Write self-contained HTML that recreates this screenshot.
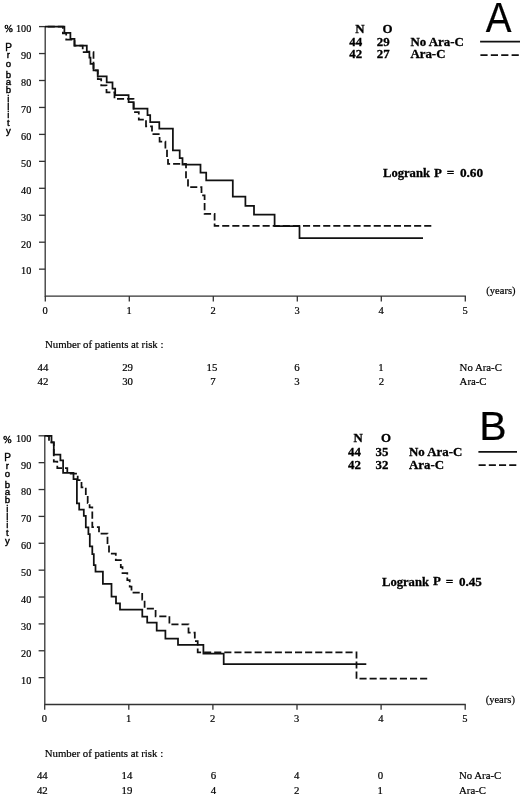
<!DOCTYPE html>
<html><head><meta charset="utf-8"><title>Kaplan-Meier curves</title>
<style>
html,body{margin:0;padding:0;background:#fff;}
body{width:520px;height:798px;overflow:hidden;}
svg{display:block;}
text{fill:#000;stroke:#000;stroke-width:0.2px;font-family:"Liberation Serif", "Times New Roman", serif;}
text[font-weight=bold]{stroke-width:0.3px;}
.axis line{stroke:#333;}
line.c,path.c{stroke:#111;fill:none;stroke-width:1.75;}
line.d,path.d{stroke:#111;fill:none;stroke-width:1.75;stroke-dasharray:7.1 3.0;}
</style></head><body>
<svg width="520" height="798" viewBox="0 0 520 798">
<rect width="520" height="798" fill="#fff"/>
<g class="axis">
<line x1="45.20" y1="26.00" x2="45.20" y2="296.70" stroke-width="1.3"/>
<line x1="45.20" y1="296.10" x2="465.90" y2="296.10" stroke-width="1.3"/>
<line x1="39.00" y1="269.15" x2="45.20" y2="269.15" stroke-width="1.3"/>
<line x1="39.00" y1="242.20" x2="45.20" y2="242.20" stroke-width="1.3"/>
<line x1="39.00" y1="215.25" x2="45.20" y2="215.25" stroke-width="1.3"/>
<line x1="39.00" y1="188.30" x2="45.20" y2="188.30" stroke-width="1.3"/>
<line x1="39.00" y1="161.35" x2="45.20" y2="161.35" stroke-width="1.3"/>
<line x1="39.00" y1="134.40" x2="45.20" y2="134.40" stroke-width="1.3"/>
<line x1="39.00" y1="107.45" x2="45.20" y2="107.45" stroke-width="1.3"/>
<line x1="39.00" y1="80.50" x2="45.20" y2="80.50" stroke-width="1.3"/>
<line x1="39.00" y1="53.55" x2="45.20" y2="53.55" stroke-width="1.3"/>
<line x1="39.00" y1="26.60" x2="45.20" y2="26.60" stroke-width="1.3"/>
<line x1="45.30" y1="296.10" x2="45.30" y2="301.40" stroke-width="1.3"/>
<line x1="129.30" y1="296.10" x2="129.30" y2="301.40" stroke-width="1.3"/>
<line x1="213.30" y1="296.10" x2="213.30" y2="301.40" stroke-width="1.3"/>
<line x1="297.30" y1="296.10" x2="297.30" y2="301.40" stroke-width="1.3"/>
<line x1="381.30" y1="296.10" x2="381.30" y2="301.40" stroke-width="1.3"/>
<line x1="465.30" y1="296.10" x2="465.30" y2="301.40" stroke-width="1.3"/>
</g>
<text x="31.30" y="274.45" font-size="10.2" text-anchor="end">10</text>
<text x="31.30" y="247.50" font-size="10.2" text-anchor="end">20</text>
<text x="31.30" y="220.55" font-size="10.2" text-anchor="end">30</text>
<text x="31.30" y="193.60" font-size="10.2" text-anchor="end">40</text>
<text x="31.30" y="166.65" font-size="10.2" text-anchor="end">50</text>
<text x="31.30" y="139.70" font-size="10.2" text-anchor="end">60</text>
<text x="31.30" y="112.75" font-size="10.2" text-anchor="end">70</text>
<text x="31.30" y="85.80" font-size="10.2" text-anchor="end">80</text>
<text x="31.30" y="58.85" font-size="10.2" text-anchor="end">90</text>
<text x="31.30" y="31.90" font-size="10.2" text-anchor="end">100</text>
<text x="45.00" y="313.60" font-size="10.5" text-anchor="middle">0</text>
<text x="129.00" y="313.60" font-size="10.5" text-anchor="middle">1</text>
<text x="213.00" y="313.60" font-size="10.5" text-anchor="middle">2</text>
<text x="297.00" y="313.60" font-size="10.5" text-anchor="middle">3</text>
<text x="381.00" y="313.60" font-size="10.5" text-anchor="middle">4</text>
<text x="465.00" y="313.60" font-size="10.5" text-anchor="middle">5</text>
<text x="486.30" y="293.80" font-size="10.9" textLength="29.2" lengthAdjust="spacingAndGlyphs">(years)</text>
<text x="8.60" y="31.80" font-size="10.0" text-anchor="middle" style="stroke-width:0.45px">%</text>
<text x="8.70" y="50.60" font-size="10.0" text-anchor="middle" style='font-family:"Liberation Sans", Arial, sans-serif;stroke-width:0.4px'>P</text>
<text x="8.40" y="58.30" font-size="9.6" text-anchor="middle" style='font-family:"Liberation Sans", Arial, sans-serif;stroke-width:0.4px'>r</text>
<text x="8.40" y="67.00" font-size="9.6" text-anchor="middle" style='font-family:"Liberation Sans", Arial, sans-serif;stroke-width:0.4px'>o</text>
<text x="8.40" y="77.50" font-size="9.6" text-anchor="middle" style='font-family:"Liberation Sans", Arial, sans-serif;stroke-width:0.4px'>b</text>
<text x="8.40" y="84.50" font-size="9.6" text-anchor="middle" style='font-family:"Liberation Sans", Arial, sans-serif;stroke-width:0.4px'>a</text>
<text x="8.40" y="92.80" font-size="9.6" text-anchor="middle" style='font-family:"Liberation Sans", Arial, sans-serif;stroke-width:0.4px'>b</text>
<text x="8.40" y="101.50" font-size="9.6" text-anchor="middle" style='font-family:"Liberation Sans", Arial, sans-serif;stroke-width:0.4px'>i</text>
<text x="8.40" y="110.00" font-size="9.6" text-anchor="middle" style='font-family:"Liberation Sans", Arial, sans-serif;stroke-width:0.4px'>l</text>
<text x="8.40" y="117.50" font-size="9.6" text-anchor="middle" style='font-family:"Liberation Sans", Arial, sans-serif;stroke-width:0.4px'>i</text>
<text x="8.40" y="126.20" font-size="9.6" text-anchor="middle" style='font-family:"Liberation Sans", Arial, sans-serif;stroke-width:0.4px'>t</text>
<text x="8.40" y="133.80" font-size="9.6" text-anchor="middle" style='font-family:"Liberation Sans", Arial, sans-serif;stroke-width:0.4px'>y</text>
<text x="355.20" y="33.30" font-size="12.9" font-weight="bold">N</text>
<text x="382.40" y="33.30" font-size="12.9" font-weight="bold">O</text>
<text x="349.20" y="45.90" font-size="12.9" font-weight="bold">44</text>
<text x="376.80" y="45.90" font-size="12.9" font-weight="bold">29</text>
<text x="410.40" y="45.90" font-size="12.9" font-weight="bold">No Ara-C</text>
<text x="349.20" y="58.40" font-size="12.9" font-weight="bold">42</text>
<text x="376.80" y="58.40" font-size="12.9" font-weight="bold">27</text>
<text x="410.40" y="58.40" font-size="12.9" font-weight="bold">Ara-C</text>
<line x1="480.10" y1="41.60" x2="520.00" y2="41.60" stroke-width="1.7" class="c"/>
<line x1="480.40" y1="55.20" x2="520.00" y2="55.20" class="d" style="stroke-dasharray:7.2 3.2"/>
<text transform="translate(485.70,32.10) scale(0.92,1)" x="0" y="0" font-size="42" style='font-family:"Liberation Sans", Arial, sans-serif'>A</text>
<text x="383.00" y="177.10" font-size="12.6" font-weight="bold">Logrank</text>
<text x="434.00" y="177.30" font-size="12.9" font-weight="bold">P</text>
<text x="446.80" y="177.10" font-size="13.5" font-weight="bold" textLength="7.6" lengthAdjust="spacingAndGlyphs">=</text>
<text x="459.90" y="177.20" font-size="13.3" font-weight="bold">0.60</text>
<path class="c" d="M44.90,26.70H64.40V32.90H70.40V38.80H74.50V45.50H86.80V51.70H89.40V57.50H90.50V63.90H93.50V70.30H97.70V76.30H106.70V82.30H112.50V88.50H115.20V95.00H128.60V102.00H133.70V108.50H147.50V115.20H150.20V122.00H159.30V128.70H172.90V150.40H179.70V158.00H182.50V164.70H200.50V172.70H206.20V180.40H232.80V196.50H245.40V205.80H254.00V214.70H274.60V226.20H299.50V238.00H423.00"/>
<path class="d" stroke-dashoffset="7.30" d="M44.90,26.70H62.90V33.40H66.20V39.50H74.50V45.50H82.70V52.20H93.50V70.30H97.80V79.20H101.20V85.40H106.50V92.30H114.50V98.80H133.50V112.00H138.80V119.50H146.00V126.30H152.00V134.00H159.60V141.50H165.40V148.50H167.00V158.00H168.00V163.90H186.00V178.50H188.00V187.20H201.50V195.40H204.60V213.80H214.60V225.90H431.60"/>
<text x="45.00" y="348.00" font-size="10.8">Number of patients at risk :</text>
<text x="43.00" y="370.80" font-size="10.8" text-anchor="middle">44</text>
<text x="127.60" y="370.80" font-size="10.8" text-anchor="middle">29</text>
<text x="212.00" y="370.80" font-size="10.8" text-anchor="middle">15</text>
<text x="297.00" y="370.80" font-size="10.8" text-anchor="middle">6</text>
<text x="381.00" y="370.80" font-size="10.8" text-anchor="middle">1</text>
<text x="459.60" y="370.80" font-size="10.8">No Ara-C</text>
<text x="43.00" y="385.40" font-size="10.8" text-anchor="middle">42</text>
<text x="127.60" y="385.40" font-size="10.8" text-anchor="middle">30</text>
<text x="213.00" y="385.40" font-size="10.8" text-anchor="middle">7</text>
<text x="297.00" y="385.40" font-size="10.8" text-anchor="middle">3</text>
<text x="381.50" y="385.40" font-size="10.8" text-anchor="middle">2</text>
<text x="459.60" y="385.40" font-size="10.8">Ara-C</text>
<g class="axis">
<line x1="44.80" y1="435.20" x2="44.80" y2="705.10" stroke-width="1.3"/>
<line x1="44.80" y1="704.50" x2="465.80" y2="704.50" stroke-width="1.3"/>
<line x1="38.60" y1="677.63" x2="44.80" y2="677.63" stroke-width="1.3"/>
<line x1="38.60" y1="650.76" x2="44.80" y2="650.76" stroke-width="1.3"/>
<line x1="38.60" y1="623.89" x2="44.80" y2="623.89" stroke-width="1.3"/>
<line x1="38.60" y1="597.02" x2="44.80" y2="597.02" stroke-width="1.3"/>
<line x1="38.60" y1="570.15" x2="44.80" y2="570.15" stroke-width="1.3"/>
<line x1="38.60" y1="543.28" x2="44.80" y2="543.28" stroke-width="1.3"/>
<line x1="38.60" y1="516.41" x2="44.80" y2="516.41" stroke-width="1.3"/>
<line x1="38.60" y1="489.54" x2="44.80" y2="489.54" stroke-width="1.3"/>
<line x1="38.60" y1="462.67" x2="44.80" y2="462.67" stroke-width="1.3"/>
<line x1="38.60" y1="435.80" x2="44.80" y2="435.80" stroke-width="1.3"/>
<line x1="44.70" y1="704.50" x2="44.70" y2="709.80" stroke-width="1.3"/>
<line x1="128.80" y1="704.50" x2="128.80" y2="709.80" stroke-width="1.3"/>
<line x1="212.90" y1="704.50" x2="212.90" y2="709.80" stroke-width="1.3"/>
<line x1="297.00" y1="704.50" x2="297.00" y2="709.80" stroke-width="1.3"/>
<line x1="381.10" y1="704.50" x2="381.10" y2="709.80" stroke-width="1.3"/>
<line x1="465.20" y1="704.50" x2="465.20" y2="709.80" stroke-width="1.3"/>
</g>
<text x="31.30" y="683.53" font-size="10.2" text-anchor="end">10</text>
<text x="31.30" y="656.66" font-size="10.2" text-anchor="end">20</text>
<text x="31.30" y="629.79" font-size="10.2" text-anchor="end">30</text>
<text x="31.30" y="602.92" font-size="10.2" text-anchor="end">40</text>
<text x="31.30" y="576.05" font-size="10.2" text-anchor="end">50</text>
<text x="31.30" y="549.18" font-size="10.2" text-anchor="end">60</text>
<text x="31.30" y="522.31" font-size="10.2" text-anchor="end">70</text>
<text x="31.30" y="495.44" font-size="10.2" text-anchor="end">80</text>
<text x="31.30" y="468.57" font-size="10.2" text-anchor="end">90</text>
<text x="31.30" y="441.70" font-size="10.2" text-anchor="end">100</text>
<text x="44.40" y="722.00" font-size="10.5" text-anchor="middle">0</text>
<text x="128.50" y="722.00" font-size="10.5" text-anchor="middle">1</text>
<text x="212.60" y="722.00" font-size="10.5" text-anchor="middle">2</text>
<text x="296.70" y="722.00" font-size="10.5" text-anchor="middle">3</text>
<text x="380.80" y="722.00" font-size="10.5" text-anchor="middle">4</text>
<text x="464.90" y="722.00" font-size="10.5" text-anchor="middle">5</text>
<text x="485.70" y="702.90" font-size="10.9" textLength="29.2" lengthAdjust="spacingAndGlyphs">(years)</text>
<text x="7.40" y="443.30" font-size="10.0" text-anchor="middle" style="stroke-width:0.45px">%</text>
<text x="7.60" y="460.60" font-size="10.0" text-anchor="middle" style='font-family:"Liberation Sans", Arial, sans-serif;stroke-width:0.4px'>P</text>
<text x="7.30" y="468.50" font-size="9.6" text-anchor="middle" style='font-family:"Liberation Sans", Arial, sans-serif;stroke-width:0.4px'>r</text>
<text x="7.30" y="477.20" font-size="9.6" text-anchor="middle" style='font-family:"Liberation Sans", Arial, sans-serif;stroke-width:0.4px'>o</text>
<text x="7.30" y="487.70" font-size="9.6" text-anchor="middle" style='font-family:"Liberation Sans", Arial, sans-serif;stroke-width:0.4px'>b</text>
<text x="7.30" y="494.70" font-size="9.6" text-anchor="middle" style='font-family:"Liberation Sans", Arial, sans-serif;stroke-width:0.4px'>a</text>
<text x="7.30" y="503.00" font-size="9.6" text-anchor="middle" style='font-family:"Liberation Sans", Arial, sans-serif;stroke-width:0.4px'>b</text>
<text x="7.30" y="511.70" font-size="9.6" text-anchor="middle" style='font-family:"Liberation Sans", Arial, sans-serif;stroke-width:0.4px'>i</text>
<text x="7.30" y="520.20" font-size="9.6" text-anchor="middle" style='font-family:"Liberation Sans", Arial, sans-serif;stroke-width:0.4px'>l</text>
<text x="7.30" y="527.70" font-size="9.6" text-anchor="middle" style='font-family:"Liberation Sans", Arial, sans-serif;stroke-width:0.4px'>i</text>
<text x="7.30" y="536.40" font-size="9.6" text-anchor="middle" style='font-family:"Liberation Sans", Arial, sans-serif;stroke-width:0.4px'>t</text>
<text x="7.30" y="543.80" font-size="9.6" text-anchor="middle" style='font-family:"Liberation Sans", Arial, sans-serif;stroke-width:0.4px'>y</text>
<text x="353.40" y="442.40" font-size="12.9" font-weight="bold">N</text>
<text x="381.10" y="442.40" font-size="12.9" font-weight="bold">O</text>
<text x="348.00" y="455.90" font-size="12.9" font-weight="bold">44</text>
<text x="375.60" y="455.90" font-size="12.9" font-weight="bold">35</text>
<text x="409.00" y="455.90" font-size="12.9" font-weight="bold">No Ara-C</text>
<text x="348.00" y="468.70" font-size="12.9" font-weight="bold">42</text>
<text x="375.60" y="468.70" font-size="12.9" font-weight="bold">32</text>
<text x="409.00" y="468.70" font-size="12.9" font-weight="bold">Ara-C</text>
<line x1="478.40" y1="451.80" x2="517.00" y2="451.80" stroke-width="1.7" class="c"/>
<line x1="478.60" y1="465.10" x2="517.00" y2="465.10" class="d" style="stroke-dasharray:7.1 3.1"/>
<text transform="translate(479.20,439.60) scale(1.0,1)" x="0" y="0" font-size="41" style='font-family:"Liberation Sans", Arial, sans-serif'>B</text>
<text x="382.00" y="586.30" font-size="12.6" font-weight="bold">Logrank</text>
<text x="433.00" y="585.30" font-size="12.9" font-weight="bold">P</text>
<text x="445.80" y="586.30" font-size="13.5" font-weight="bold" textLength="7.6" lengthAdjust="spacingAndGlyphs">=</text>
<text x="458.90" y="585.80" font-size="13.1" font-weight="bold">0.45</text>
<path class="c" d="M44.50,435.80H51.50V442.30H53.80V454.50H60.40V460.40H63.10V472.80H73.50V479.20H76.90V503.30H79.20V509.60H83.80V515.80H85.80V527.30H88.40V534.20H89.80V546.40H92.30V554.20H93.80V565.00H95.50V571.50H102.90V583.80H111.50V596.50H116.00V603.30H120.00V609.50H142.30V616.70H147.20V622.70H156.70V630.50H165.40V638.60H178.00V644.90H203.40V653.60H223.70V664.20H366.30"/>
<path class="d" stroke-dashoffset="7.70" d="M44.50,435.80H49.00V442.30H53.80V461.50H57.30V468.20H67.30V473.50H77.70V480.00H81.50V487.30H85.80V494.00H87.70V503.00H89.60V507.30H92.30V527.20H99.00V533.60H107.50V545.00H109.00V553.60H115.80V560.00H120.80V567.00H122.50V573.00H127.30V580.00H129.70V586.50H131.50V592.50H142.20V599.50H144.60V608.60H155.60V616.30H169.40V624.40H188.50V632.50H194.80V641.20H197.70V652.30H356.50V678.70H428.60"/>
<text x="44.70" y="757.00" font-size="10.8">Number of patients at risk :</text>
<text x="42.30" y="779.00" font-size="10.8" text-anchor="middle">44</text>
<text x="127.00" y="779.00" font-size="10.8" text-anchor="middle">14</text>
<text x="213.50" y="779.00" font-size="10.8" text-anchor="middle">6</text>
<text x="296.60" y="779.00" font-size="10.8" text-anchor="middle">4</text>
<text x="380.40" y="779.00" font-size="10.8" text-anchor="middle">0</text>
<text x="459.00" y="779.00" font-size="10.8">No Ara-C</text>
<text x="42.30" y="793.90" font-size="10.8" text-anchor="middle">42</text>
<text x="127.00" y="793.90" font-size="10.8" text-anchor="middle">19</text>
<text x="213.50" y="793.90" font-size="10.8" text-anchor="middle">4</text>
<text x="296.60" y="793.90" font-size="10.8" text-anchor="middle">2</text>
<text x="380.20" y="793.90" font-size="10.8" text-anchor="middle">1</text>
<text x="459.00" y="793.90" font-size="10.8">Ara-C</text>
</svg>
</body></html>
